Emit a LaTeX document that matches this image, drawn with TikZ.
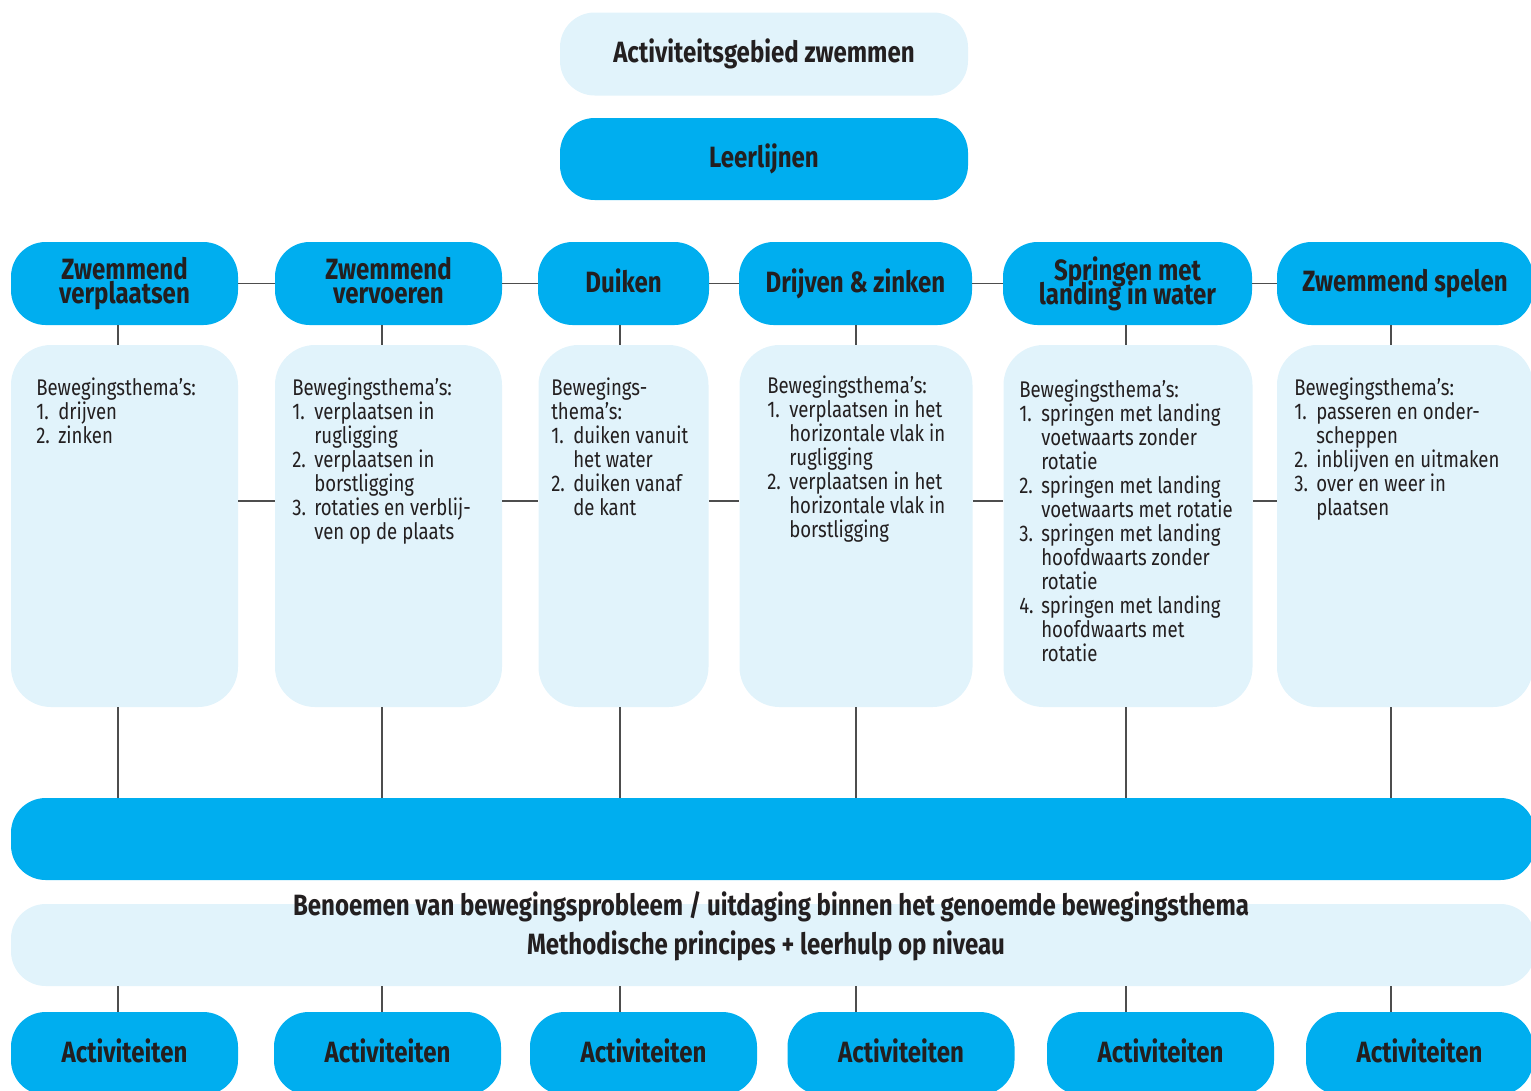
\documentclass[tikz,border=0pt]{standalone}
\usepackage{fontspec}
\setmainfont{Fira Sans}[FakeStretch=0.82]
\usetikzlibrary{calc}
\definecolor{cyanbox}{HTML}{00AEEF}
\definecolor{lightbox}{HTML}{E1F3FB}
\definecolor{ink}{HTML}{231F20}
\definecolor{wirec}{HTML}{4D4D4D}
\newcommand\pxu{0.75pt}
\newcommand\itm[1]{\makebox[16.5pt][l]{#1}}
\newcommand\cnt{\hspace*{16.5pt}}
\begin{document}
\lineskiplimit=-30pt
\lineskip=0pt
\begin{tikzpicture}[x=0.75pt,y=-0.75pt,
  cbox/.style={fill=cyanbox, draw=none, rounded corners=26pt, inner sep=0pt, text=ink,
    font=\bfseries\fontsize{22pt}{18pt}\selectfont, align=center,
    execute at begin node=\vphantom{Ag}, execute at end node=\vphantom{g}},
  lbox/.style={cbox, fill=lightbox},
  bodybox/.style={fill=lightbox, draw=none, rounded corners=30pt, inner sep=0pt},
  bodytext/.style={text=ink, font=\fontsize{17pt}{18pt}\selectfont, align=left,
    anchor=north west, inner sep=0pt},
  boldtext/.style={text=ink, font=\bfseries\fontsize{22pt}{18pt}\selectfont, inner sep=0pt},
  wire/.style={draw=wirec, line width=1.1pt},
  hw/.style={minimum width=227*\pxu, minimum height=83*\pxu},
]
\useasboundingbox (0,0) rectangle (1531,1090);
\clip (0,0) rectangle (1531,1090);

% top
\node[lbox, minimum width=408*\pxu, minimum height=83*\pxu] (top) at (764,54) {Activiteitsgebied zwemmen};
\node[cbox, minimum width=408*\pxu, minimum height=82*\pxu] (leer) at (764,159) {Leerlijnen};

% headers
\node[cbox, hw] (h1) at (124.5,283.5) {Zwemmend\\verplaatsen};
\node[cbox, hw] (h2) at (388.5,283.5) {Zwemmend\\vervoeren};
\node[cbox, minimum width=171*\pxu, minimum height=83*\pxu] (h3) at (623.5,283.5) {Duiken};
\node[cbox, minimum width=233*\pxu, minimum height=83*\pxu] (h4) at (855.5,283.5) {Drijven \& zinken};
\node[cbox, minimum width=249*\pxu, minimum height=83*\pxu] (h5) at (1127.5,283.5) {Springen met\\landing in water};
\node[cbox, minimum width=256*\pxu, minimum height=83*\pxu] (h6) at (1405,283.5) {Zwemmend spelen};

% body boxes
\node[bodybox, minimum width=227*\pxu, minimum height=362*\pxu] (b1) at (124.5,526) {};
\node[bodybox, minimum width=227*\pxu, minimum height=362*\pxu] (b2) at (388.5,526) {};
\node[bodybox, minimum width=170*\pxu, minimum height=362*\pxu] (b3) at (623.5,526) {};
\node[bodybox, minimum width=233*\pxu, minimum height=362*\pxu] (b4) at (856,526) {};
\node[bodybox, minimum width=249*\pxu, minimum height=362*\pxu] (b5) at (1128,526) {};
\node[bodybox, minimum width=256*\pxu, minimum height=362*\pxu] (b6) at (1405,526) {};

\node[bodytext] (t1) at (36,378) {Bewegingsthema’s:\\\itm{1.}drijven\\\itm{2.}zinken};
\node[bodytext] (t2) at (292,378) {Bewegingsthema’s:\\\itm{1.}verplaatsen in\\\cnt rugligging\\\itm{2.}verplaatsen in\\\cnt borstligging\\\itm{3.}rotaties en verblij-\\\cnt ven op de plaats};
\node[bodytext] (t3) at (551,378) {Bewegings-\\thema’s:\\\itm{1.}duiken vanuit\\\cnt het water\\\itm{2.}duiken vanaf\\\cnt de kant};
\node[bodytext] (t4) at (767,376) {Bewegingsthema’s:\\\itm{1.}verplaatsen in het\\\cnt horizontale vlak in\\\cnt rugligging\\\itm{2.}verplaatsen in het\\\cnt horizontale vlak in\\\cnt borstligging};
\node[bodytext] (t5) at (1019,380) {Bewegingsthema’s:\\\itm{1.}springen met landing\\\cnt voetwaarts zonder\\\cnt rotatie\\\itm{2.}springen met landing\\\cnt voetwaarts met rotatie\\\itm{3.}springen met landing\\\cnt hoofdwaarts zonder\\\cnt rotatie\\\itm{4.}springen met landing\\\cnt hoofdwaarts met\\\cnt rotatie};
\node[bodytext] (t6) at (1294,378) {Bewegingsthema’s:\\\itm{1.}passeren en onder-\\\cnt scheppen\\\itm{2.}inblijven en uitmaken\\\itm{3.}over en weer in\\\cnt plaatsen};

% bars
\node[cbox, minimum width=1524*\pxu, minimum height=82*\pxu] (bar) at (773,839) {};
\node[lbox, minimum width=1524*\pxu, minimum height=82*\pxu] (lbar) at (773,945) {};
\node[boldtext] (l1) at (771,907) {Benoemen van bewegingsprobleem / uitdaging binnen het genoemde bewegingsthema};
\node[boldtext] (l2) at (766,946) {Methodische principes + leerhulp op niveau};

% activities
\node[cbox, hw] (a1) at (124.5,1053.5) {Activiteiten};
\node[cbox, hw] (a2) at (387.5,1053.5) {Activiteiten};
\node[cbox, hw] (a3) at (643.5,1053.5) {Activiteiten};
\node[cbox, hw] (a4) at (901,1053.5) {Activiteiten};
\node[cbox, hw] (a5) at (1160.5,1053.5) {Activiteiten};
\node[cbox, hw] (a6) at (1419.5,1053.5) {Activiteiten};

% connectors between headers
\draw[wire] (h1.east) -- (h2.west);
\draw[wire] (h2.east) -- (h3.west);
\draw[wire] (h3.east) -- (h4.west);
\draw[wire] (h4.east) -- (h5.west);
\draw[wire] (h5.east) -- (h6.west);
% connectors between body boxes
\draw[wire] ($(b1.east)+(0,-25)$) -- ($(b2.west)+(0,-25)$);
\draw[wire] ($(b2.east)+(0,-25)$) -- ($(b3.west)+(0,-25)$);
\draw[wire] ($(b3.east)+(0,-25)$) -- ($(b4.west)+(0,-25)$);
\draw[wire] ($(b4.east)+(0,-25)$) -- ($(b5.west)+(0,-25)$);
\draw[wire] ($(b5.east)+(0,-25)$) -- ($(b6.west)+(0,-25)$);
% verticals
\foreach \i/\x in {1/118,2/382,3/620,4/856,5/1126,6/1391}{
  \draw[wire] (h\i.south -| \x,0) -- (b\i.north -| \x,0);
  \draw[wire] (b\i.south -| \x,0) -- (bar.north -| \x,0);
  \draw[wire] (lbar.south -| \x,0) -- (a\i.north -| \x,0);
}
\end{tikzpicture}
\end{document}
